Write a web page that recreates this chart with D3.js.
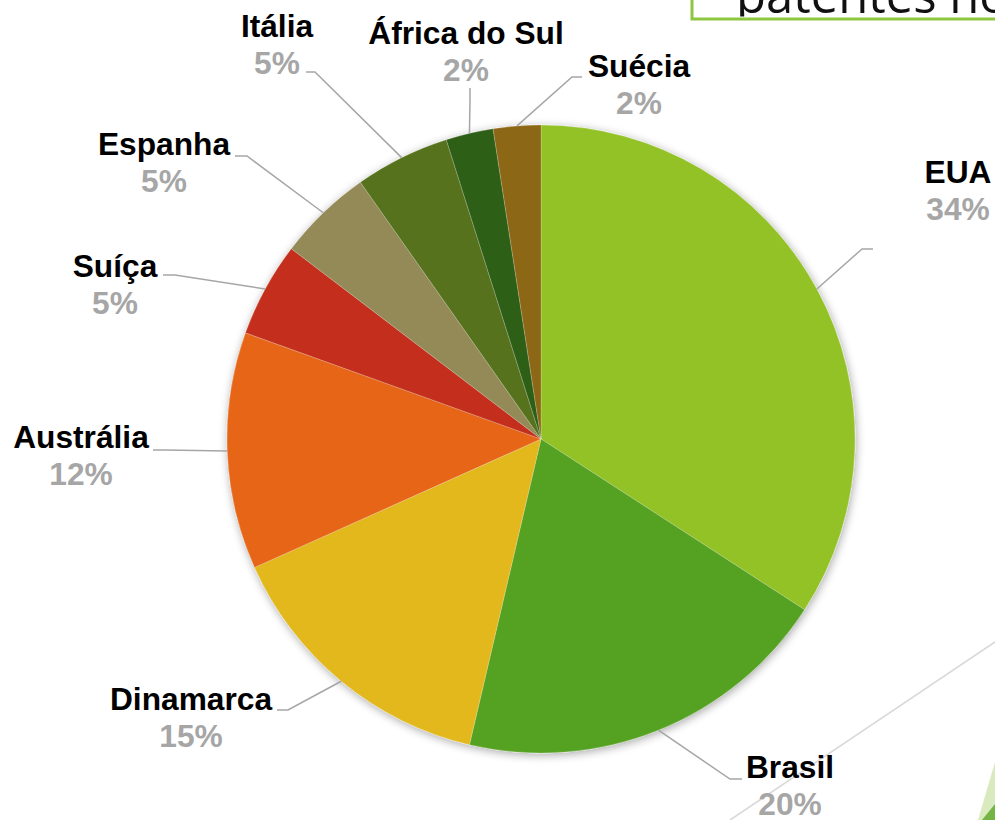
<!DOCTYPE html>
<html lang="pt">
<head>
<meta charset="utf-8">
<script src="https://cdn.jsdelivr.net/npm/d3@7"></script>
<style>
  html, body { margin: 0; padding: 0; background: #fff; }
  svg { display: block; }
</style>
</head>
<body>
<svg id="chart" width="995" height="820"></svg>
<script>
// Patentes por país
const countries = ["EUA", "Brasil", "Dinamarca", "Austrália", "Suíça", "Espanha", "Itália", "África do Sul", "Suécia"];
const patents   = [14, 8, 6, 5, 2, 2, 2, 1, 1];
const sliceColors = ["#93C227", "#55A222", "#E3B81E", "#E66518", "#C42F1A", "#948A58", "#56721C", "#2F5E17", "#8C6714"];

// Label placement: text centre / first baseline, leader end point and the short stub before it
const labelLayout = [
  { x: 958, y: 183, ex: 873, ey: 249, sx: -11, sy: 0 },
  { x: 790, y: 778, ex: 742, ey: 779, sx: -12, sy: 0 },
  { x: 191, y: 710, ex: 277, ey: 710, sx: 11, sy: 0 },
  { x: 81,  y: 448, ex: 153, ey: 450, sx: 12, sy: 0 },
  { x: 115, y: 277, ex: 163, ey: 275, sx: 12, sy: 0 },
  { x: 164, y: 155, ex: 235, ey: 156, sx: 12, sy: 0 },
  { x: 277, y: 37,  ex: 306, ey: 72,  sx: 9,  sy: 0 },
  { x: 466, y: 44,  ex: 470, ey: 88,  sx: 0,  sy: 12 },
  { x: 639, y: 77,  ex: 582, ey: 77,  sx: -10, sy: 0 }
];

const width = 995, height = 820;
const cx = 541, cy = 439, radius = 314;

const svg = d3.select("#chart");
const defs = svg.append("defs");

// soft drop shadow around the pie
const shadow = defs.append("filter").attr("id", "pieShadow")
  .attr("x", "-20%").attr("y", "-20%").attr("width", "140%").attr("height", "140%");
shadow.append("feGaussianBlur").attr("in", "SourceAlpha").attr("stdDeviation", 5).attr("result", "blur");
shadow.append("feOffset").attr("in", "blur").attr("dx", 1).attr("dy", 2).attr("result", "off");
shadow.append("feComponentTransfer").attr("in", "off").attr("result", "soft")
  .append("feFuncA").attr("type", "linear").attr("slope", 0.35);
const merge = shadow.append("feMerge");
merge.append("feMergeNode").attr("in", "soft");
merge.append("feMergeNode").attr("in", "SourceGraphic");

defs.append("clipPath").attr("id", "titleClip")
  .append("rect").attr("x", 690).attr("y", 0).attr("width", 305).attr("height", 16.5);

// slide decoration behind the chart
const deco = svg.append("g");
deco.append("line")
  .attr("x1", 730).attr("y1", 820).attr("x2", 995).attr("y2", 642)
  .attr("stroke", "#D9D9D9").attr("stroke-width", 1.6);
deco.append("polygon").attr("points", "978,820 995,762 995,820").attr("fill", "#D9EABF");
deco.append("polygon").attr("points", "982,820 995,804 995,820").attr("fill", "#72B545");
deco.append("rect")
  .attr("x", 692).attr("y", -10).attr("width", 340).attr("height", 29)
  .attr("fill", "none").attr("stroke", "#8DC63F").attr("stroke-width", 3);
deco.append("text")
  .attr("clip-path", "url(#titleClip)")
  .attr("x", 736).attr("y", 13)
  .attr("font-family", "'Open Sans', sans-serif")
  .attr("font-size", 49)
  .attr("fill", "#111")
  .text("patentes no mundo");

// pie
const data = countries.map((c, i) => ({ country: c, value: patents[i], color: sliceColors[i], lab: labelLayout[i] }));
const total = d3.sum(patents);

const pie = d3.pie().value(d => d.value).sort(null);
const arc = d3.arc().innerRadius(0).outerRadius(radius);
const arcs = pie(data);

const g = svg.append("g").attr("transform", `translate(${cx},${cy})`);
g.append("g").attr("filter", "url(#pieShadow)")
  .selectAll("path").data(arcs).join("path")
  .attr("d", arc)
  .attr("fill", d => d.data.color)
  .attr("stroke", "rgba(255,255,255,0.35)")
  .attr("stroke-width", 0.6);

// leader lines from the arc at each slice's mid-angle
const edge = d3.arc().innerRadius(radius).outerRadius(radius);
svg.append("g").selectAll("polyline").data(arcs).join("polyline")
  .attr("points", d => {
    const [px, py] = edge.centroid(d);
    const L = d.data.lab;
    return [[cx + px, cy + py], [L.ex + L.sx, L.ey + L.sy], [L.ex, L.ey]].map(p => p.join(",")).join(" ");
  })
  .attr("fill", "none")
  .attr("stroke", "#A6A6A6")
  .attr("stroke-width", 1.5);

// labels: country name and share
const labels = svg.append("g")
  .attr("font-family", "'Liberation Sans', Arial, sans-serif")
  .attr("font-weight", "bold")
  .attr("font-size", 31.7)
  .attr("text-anchor", "middle");

labels.selectAll("text.name").data(arcs).join("text")
  .attr("class", "name")
  .attr("x", d => d.data.lab.x).attr("y", d => d.data.lab.y)
  .attr("fill", "#000")
  .text(d => d.data.country);

labels.selectAll("text.pct").data(arcs).join("text")
  .attr("class", "pct")
  .attr("x", d => d.data.lab.x).attr("y", d => d.data.lab.y + 37)
  .attr("fill", "#A6A6A6")
  .text(d => Math.round(d.data.value / total * 100) + "%");
</script>
</body>
</html>
